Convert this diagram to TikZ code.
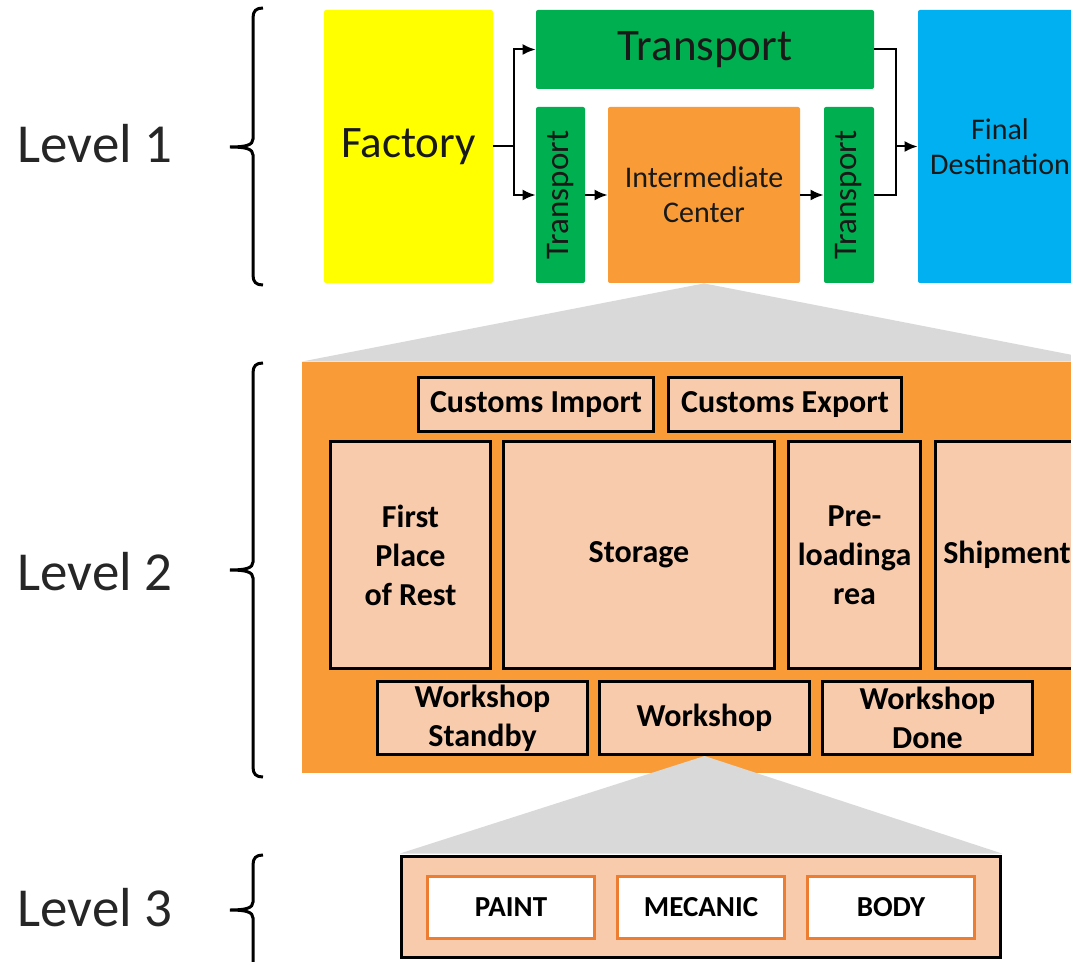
\documentclass[tikz,border=0pt]{standalone}
\usepackage{fontspec}
\setmainfont{Carlito}
\usepackage{tikz}
\usetikzlibrary{matrix, arrows.meta}
\definecolor{boxyellow}{HTML}{FFFF00}
\definecolor{boxgreen}{HTML}{00B050}
\definecolor{boxblue}{HTML}{00B0F0}
\definecolor{boxorange}{HTML}{F99B36}
\definecolor{peach}{HTML}{F8CBAD}
\definecolor{fan}{HTML}{D9D9D9}
\definecolor{rim}{HTML}{ED7D31}
\tikzset{
blk/.style={rectangle, inner sep=0pt, align=center, rounded corners=1pt, text=black!90},
bigtxt/.style={font=\fontsize{22.5}{26}\selectfont},
midtxt/.style={font=\fontsize{15}{17.5}\selectfont},
vtxt/.style={font=\fontsize{16.5}{19}\selectfont, rotate=90},
part/.style={rectangle, draw=black, line width=1.5pt, fill=peach, inner sep=0pt,
  align=center, font=\bfseries\fontsize{16}{19.5}\selectfont},
shop/.style={rectangle, draw=rim, line width=1.5pt, fill=white, inner sep=0pt,
  minimum width=83.5pt, minimum height=31pt, font=\bfseries\fontsize{14.5}{17}\selectfont},
flow/.style={line width=1pt, black},
brc/.style={line width=1.5pt, black},
lvl/.style={font=\fontsize{27.5}{32}\selectfont, text=black!85},
}
% curly brace: top, tip and bottom
\newcommand{\levelbrace}[3]{%
  \draw[brc] (263,#1) .. controls (256,#1) and (253,#1+3) .. (253,#1+10)
    -- (253,#2-8) .. controls (253,#2-2) and (246,#2) .. (230,#2)
    .. controls (246,#2) and (253,#2+2) .. (253,#2+8)
    -- (253,#3-10) .. controls (253,#3-3) and (256,#3) .. (263,#3);}

\begin{document}
\begin{tikzpicture}[x=0.5pt, y=-0.5pt, >={Latex[length=6.5pt,width=5.5pt]}]
\useasboundingbox (0,0) rectangle (1071,962);
\clip (0,0) rectangle (1071,962);

% level 1
\node[blk, bigtxt, fill=boxyellow, minimum width=84.5pt, minimum height=136.5pt] (fact) at (408.5,146.5) {Factory};
\node[blk, bigtxt, fill=boxgreen, minimum width=169pt, minimum height=39.5pt] (trtop) at (705,49.5) {Transport};
\node[blk, vtxt, fill=boxgreen, minimum width=88pt, minimum height=24.5pt] (trl) at (560.5,195) {Transport};
\node[blk, midtxt, fill=boxorange, minimum width=96pt, minimum height=88pt] (inter) at (704,195) {Intermediate\\Center};
\node[blk, vtxt, fill=boxgreen, minimum width=88pt, minimum height=25pt] (trr) at (849,195) {Transport};
\node[blk, midtxt, fill=boxblue, minimum width=82pt, minimum height=136.5pt] (dest) at (1000,146.5) {Final\\Destination};

\draw[flow] (fact.east) -- ++(21,0) coordinate (split);
\draw[flow,->] (split) |- (trtop);
\draw[flow,->] (split) |- (trl);
\draw[flow,->] (trl) -- (inter);
\draw[flow,->] (inter) -- (trr);
\coordinate (merge) at (896,146.5);
\draw[flow] (trtop) -| (merge);
\draw[flow] (trr) -| (merge);
\draw[flow,->] (merge) -- (dest);

% level 2
\node[rectangle, fill=boxorange, inner sep=0pt, minimum width=402pt, minimum height=205.5pt] (lvltwo) at (704,567.5) {};
\fill[fan] (inter.south) -- (lvltwo.north west) -- (lvltwo.north east) -- cycle;

\node[part, minimum width=117.5pt, minimum height=27pt] (cimp) at (536,404.5) {Customs Import};
\node[part, minimum width=116.5pt, minimum height=27pt] (cexp) at (785,404.5) {Customs Export};
\node[part, minimum width=80pt, minimum height=113.5pt] (rest) at (410.5,555) {First\\Place\\of Rest};
\node[part, minimum width=135.5pt, minimum height=113.5pt] (stor) at (639,555) {Storage};
\node[part, minimum width=66pt, minimum height=113.5pt] (prel) at (854.5,555) {Pre-\\loadinga\\rea};
\node[part, minimum width=71.5pt, minimum height=113.5pt] (ship) at (1007,555) {Shipment};
\node[part, minimum width=105pt, minimum height=36.5pt] (wsb) at (482.5,718) {Workshop\\Standby};
\node[part, minimum width=105pt, minimum height=36.5pt] (wsh) at (704.5,718) {Workshop};
\node[part, minimum width=105pt, minimum height=36.5pt] (wsd) at (927.5,718) {Workshop\\Done};

% level 3
\node[rectangle, draw=black, line width=1.5pt, fill=peach, minimum width=299.5pt, minimum height=50.5pt] (lvlthree) at (701,907) {};
\fill[fan] (wsh.south) -- ([yshift=0.75pt]lvlthree.north west) -- ([yshift=0.75pt]lvlthree.north east) -- cycle;
\matrix (shops) [matrix of nodes, column sep=10pt, nodes={shop}] at (701,907.5) {
  PAINT & MECANIC & BODY \\
};

% levels
\node[lvl] (lvone) at (95,144) {Level 1};
\node[lvl] (lvtwo) at (95,572) {Level 2};
\node[lvl] (lvthree) at (95,908) {Level 3};
\levelbrace{8}{147}{285}
\levelbrace{363}{570}{777}
\levelbrace{855}{910}{975}
\end{tikzpicture}
\end{document}
